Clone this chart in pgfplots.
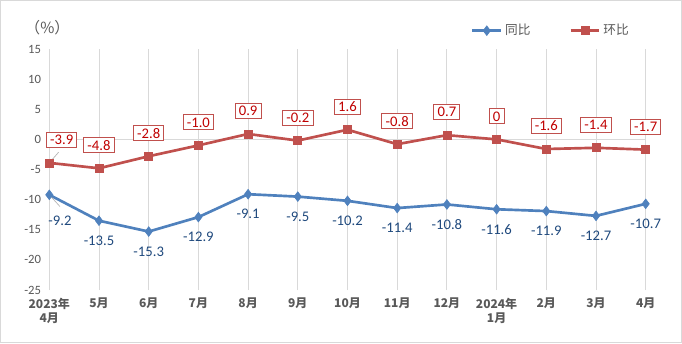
\documentclass[border=0pt]{standalone}
\usepackage{pgfplots}
\pgfplotsset{compat=1.18}
\usepackage{fontspec}
\setmainfont{Carlito}
\newfontfamily\cjk{Noto Sans CJK SC}
\definecolor{gridgray}{RGB}{217,217,217}
\definecolor{txtgray}{RGB}{89,89,89}
\definecolor{sblue}{RGB}{79,129,189}
\definecolor{sred}{RGB}{192,80,77}
\definecolor{lblue}{RGB}{31,73,125}
\definecolor{lred}{RGB}{192,0,0}
\begin{document}
\begin{tikzpicture}
\useasboundingbox (0,0) rectangle (511.5pt,257.25pt);
\draw[gridgray, line width=0.75pt] (0.375pt,0.375pt) rectangle (511.125pt,256.875pt);
\node[text=txtgray, font=\cjk\fontsize{11.5pt}{13pt}\selectfont] at (35.5pt,236.25pt) {（\%）};
\begin{axis}[
  at={(36.975pt,39.75pt)}, anchor=south west,
  scale only axis, width=447.3pt, height=180.75pt,
  xmin=0, xmax=12, ymin=-25, ymax=15,
  axis line style={draw=none},
  tick style={draw=none},
  xtick={0,...,12},
  xticklabels={2023年\\4月,5月,6月,7月,8月,9月,10月,11月,12月,2024年\\1月,2月,3月,4月},
  xticklabel style={align=center, inner sep=0pt, anchor=north, yshift=-6pt, text=txtgray, font=\cjk\bfseries\fontsize{9pt}{10.5pt}\selectfont},
  ytick={-25,-20,...,15},
  yticklabel style={anchor=east, inner sep=0pt, xshift=-6pt, text=txtgray, font=\fontsize{9.5pt}{10pt}\selectfont},
  /pgf/number format/assume math mode=true,
  xmajorgrids, grid style={gridgray, line width=0.75pt},
  clip=false,
  legend columns=2,
  legend style={draw=none, fill=none, at={(0.7,1.076)}, anchor=west, font=\cjk\fontsize{9.5pt}{12pt}\selectfont, text=txtgray,
    /tikz/every even column/.append style={column sep=27pt}},
  legend image code/.code={\draw[mark repeat=2,mark phase=2] plot coordinates {(0cm,0cm) (0.38cm,0cm) (0.76cm,0cm)};},
]
\addplot[gridgray, line width=0.75pt, forget plot] coordinates {(0,0) (12,0)};
\addplot[sblue, line width=2pt, mark=diamond*, mark size=3.6pt, mark options={fill=sblue, draw=sblue, line width=0.5pt}] coordinates {
(0,-9.2) (1,-13.5) (2,-15.3) (3,-12.9) (4,-9.1) (5,-9.5) (6,-10.2) (7,-11.4) (8,-10.8) (9,-11.6) (10,-11.9) (11,-12.7) (12,-10.7)};
\addlegendentry{同比}
\addplot[sred, line width=2pt, mark=square*, mark size=3pt, mark options={fill=sred, draw=sred, line width=0.5pt}] coordinates {
(0,-3.9) (1,-4.8) (2,-2.8) (3,-1.0) (4,0.9) (5,-0.2) (6,1.6) (7,-0.8) (8,0.7) (9,0) (10,-1.6) (11,-1.4) (12,-1.7)};
\addlegendentry{环比}
% leader lines
\draw[gray!60, line width=0.5pt] (axis cs:0,-9.2) -- ++(8pt,-8.8pt);
\draw[gray!60, line width=0.5pt] (axis cs:0,-3.9) -- ++(7pt,8pt);
% blue labels
\addplot[draw=none, forget plot, point meta=explicit symbolic, nodes near coords,
  nodes near coords style={anchor=center, yshift=-15pt, text=lblue, font=\fontsize{11pt}{12pt}\selectfont, inner sep=0pt}] coordinates {
(1,-13.5) [-13.5] (2,-15.3) [-15.3] (3,-12.9) [-12.9] (4,-9.1) [-9.1] (5,-9.5) [-9.5] (6,-10.2) [-10.2] (7,-11.4) [-11.4] (8,-10.8) [-10.8] (9,-11.6) [-11.6] (10,-11.9) [-11.9] (11,-12.7) [-12.7] (12,-10.7) [-10.7]};
\addplot[draw=none, forget plot, point meta=explicit symbolic, nodes near coords,
  nodes near coords style={anchor=center, xshift=8pt, yshift=-19.3pt, text=lblue, font=\fontsize{11pt}{12pt}\selectfont, inner sep=0pt}] coordinates {
(0,-9.2) [-9.2]};
% red labels
\addplot[draw=none, forget plot, point meta=explicit symbolic, nodes near coords,
  nodes near coords style={anchor=center, yshift=17.25pt, draw=sred, line width=0.75pt, fill=white, text=lred, font=\fontsize{11pt}{12pt}\selectfont, inner xsep=2.8pt, inner ysep=0pt, minimum height=11.25pt}] coordinates {
(1,-4.8) [-4.8] (2,-2.8) [-2.8] (3,-1.0) [-1.0] (4,0.9) [0.9] (5,-0.2) [-0.2] (6,1.6) [1.6] (7,-0.8) [-0.8] (8,0.7) [0.7] (9,0) [0] (10,-1.6) [-1.6] (11,-1.4) [-1.4] (12,-1.7) [-1.7]};
\addplot[draw=none, forget plot, point meta=explicit symbolic, nodes near coords,
  nodes near coords style={anchor=center, xshift=9.3pt, yshift=17.25pt, draw=sred, line width=0.75pt, fill=white, text=lred, font=\fontsize{11pt}{12pt}\selectfont, inner xsep=2.8pt, inner ysep=0pt, minimum height=11.25pt}] coordinates {
(0,-3.9) [-3.9]};
\end{axis}
\end{tikzpicture}
\end{document}
